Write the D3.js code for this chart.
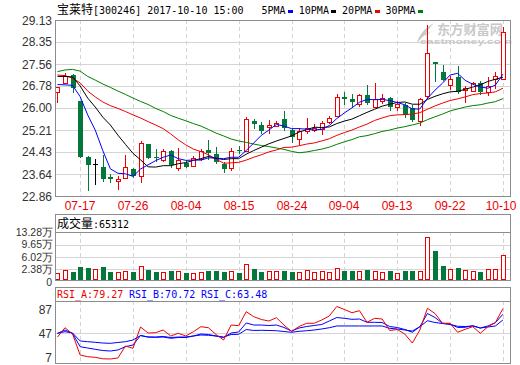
<!DOCTYPE html>
<html>
<head>
<meta charset="utf-8">
<script src="https://cdn.jsdelivr.net/npm/d3@7"></script>
<style>
  body { margin: 0; background: #fff; }
</style>
</head>
<body>
<div id="chart"></div>
<script>
// trading days shown (MM-DD)
const dates = [
  "07-12","07-13","07-14","07-17","07-18","07-19","07-20","07-21","07-24","07-25",
  "07-26","07-27","07-28","07-31","08-01","08-02","08-03","08-04","08-07","08-08",
  "08-09","08-10","08-11","08-14","08-15","08-16","08-17","08-18","08-21","08-22",
  "08-23","08-24","08-25","08-28","08-29","08-30","08-31","09-01","09-04","09-05",
  "09-06","09-07","09-08","09-11","09-12","09-13","09-14","09-15","09-18","09-19",
  "09-20","09-21","09-22","09-25","09-26","09-27","09-28","09-29","10-09","10-10"
];

const open = [
  26.57,26.90,27.17,26.24,24.26,24.00,23.88,23.53,23.41,23.49,
  23.82,23.56,24.71,24.26,24.14,24.46,23.86,24.05,23.94,24.18,
  24.50,24.34,24.00,23.85,24.50,24.47,25.53,25.39,25.33,25.37,
  25.59,25.21,24.89,25.19,25.20,25.25,25.51,25.72,26.38,26.30,
  26.14,26.46,26.04,26.25,26.34,26.02,26.10,26.01,25.53,26.43,
  27.63,27.29,26.81,27.09,26.62,26.61,26.89,26.55,27.02,27.03
];
const high = [
  26.74,27.23,27.21,26.24,24.30,24.17,24.32,23.63,23.57,24.32,
  23.85,24.83,24.72,24.53,24.52,24.50,24.56,24.14,24.28,24.52,
  24.86,24.60,24.08,24.56,24.64,25.69,25.60,25.51,25.57,25.54,
  25.90,25.25,25.27,25.63,25.44,25.53,25.71,26.49,26.55,26.48,
  26.51,26.81,26.90,26.48,26.37,26.23,26.16,26.10,26.35,28.95,
  27.63,27.51,27.15,27.49,26.78,26.93,26.96,27.10,27.29,28.88
];
const low = [
  26.21,26.89,26.55,24.24,23.06,23.27,23.39,23.35,23.10,23.49,
  23.52,23.36,24.20,24.12,24.11,23.89,23.79,23.89,23.93,24.16,
  24.18,24.03,23.73,23.79,24.38,24.47,25.28,25.12,25.12,25.35,
  25.21,24.80,24.71,25.12,25.16,25.07,25.47,25.71,26.14,26.07,
  26.07,26.12,26.04,26.16,25.92,25.92,25.69,25.54,25.39,26.36,
  26.96,26.99,26.66,26.52,26.22,26.60,26.49,26.46,26.70,27.03
];
const close = [
  26.73,27.12,26.70,24.26,23.96,24.00,23.46,23.46,23.46,23.88,
  23.56,24.76,24.21,24.20,24.46,23.96,24.13,23.91,24.22,24.46,
  24.38,24.08,23.81,24.46,24.45,25.59,25.43,25.18,25.39,25.47,
  25.30,24.97,25.17,25.30,25.30,25.47,25.63,26.38,26.30,26.22,
  26.46,26.16,26.31,26.34,26.03,26.12,25.76,25.56,26.32,27.94,
  27.58,27.01,27.02,26.58,26.72,26.88,26.55,26.78,27.12,28.69
];

const ma5 = [
  26.83,26.82,26.80,26.40,25.75,25.21,24.48,23.83,23.67,23.65,
  23.56,23.82,23.97,24.12,24.24,24.32,24.19,24.13,24.14,24.14,
  24.22,24.21,24.19,24.24,24.24,24.48,24.75,25.02,25.21,25.41,
  25.35,25.26,25.26,25.24,25.21,25.24,25.37,25.62,25.82,26.00,
  26.20,26.30,26.29,26.30,26.26,26.19,26.11,25.96,25.96,26.34,
  26.63,26.88,27.17,27.23,26.98,26.84,26.75,26.70,26.81,27.20
];
const ma10 = [
  27.12,27.12,27.10,26.78,26.35,26.03,25.67,25.39,25.03,24.70,
  24.38,24.15,23.90,23.89,23.94,23.94,24.01,24.05,24.13,24.19,
  24.27,24.20,24.16,24.19,24.19,24.35,24.48,24.60,24.72,24.82,
  24.91,25.00,25.14,25.22,25.31,25.30,25.32,25.44,25.53,25.60,
  25.72,25.84,25.95,26.06,26.13,26.19,26.21,26.13,26.13,26.30,
  26.41,26.50,26.57,26.59,26.66,26.74,26.82,26.94,27.02,27.09
];
const ma20 = [
  27.17,27.15,27.06,26.89,26.60,26.39,26.21,26.08,25.98,25.87,
  25.75,25.64,25.51,25.39,25.26,25.07,24.86,24.68,24.53,24.44,
  24.33,24.17,24.03,24.04,24.06,24.14,24.24,24.33,24.43,24.50,
  24.59,24.60,24.65,24.71,24.75,24.82,24.90,25.02,25.12,25.21,
  25.32,25.42,25.55,25.64,25.72,25.75,25.76,25.78,25.83,25.95,
  26.07,26.17,26.26,26.32,26.39,26.47,26.51,26.53,26.57,26.70
];
const ma30 = [
  27.29,27.35,27.37,27.31,27.12,26.99,26.85,26.73,26.60,26.48,
  26.35,26.23,26.12,25.98,25.87,25.73,25.63,25.54,25.44,25.35,
  25.23,25.10,25.00,24.89,24.82,24.77,24.71,24.66,24.62,24.57,
  24.52,24.45,24.40,24.43,24.48,24.53,24.60,24.70,24.79,24.87,
  24.97,25.01,25.08,25.16,25.21,25.28,25.33,25.39,25.46,25.58,
  25.68,25.78,25.89,25.96,26.03,26.08,26.11,26.17,26.22,26.33
];

// volume in 万 (10k lots)
const volume = [
  1.10,2.00,1.49,2.99,2.69,2.30,2.99,1.49,1.49,1.70,
  1.49,3.19,2.09,1.49,1.49,1.79,1.70,1.19,1.19,1.49,
  1.79,1.79,1.58,1.79,1.28,3.79,2.39,1.49,1.79,1.79,
  1.79,1.49,1.49,2.00,1.49,1.70,1.49,2.78,1.79,1.79,
  1.79,2.09,1.70,1.49,1.79,1.10,1.79,1.79,1.79,11.85,
  7.76,3.28,2.39,2.69,2.00,1.70,1.49,2.39,2.39,6.53
];

const rsiA = [
  40.8,56.3,45.8,10.8,8.0,7.0,4.5,4.2,5.8,25.8,
  22.0,57.5,47.5,48.0,52.5,42.5,47.0,42.5,49.7,58.0,
  56.3,45.0,35.8,60.8,59.7,83.0,74.7,70.0,67.5,73.0,
  60.8,50.0,58.3,63.7,63.7,69.2,75.8,91.7,86.7,81.3,
  84.7,65.3,72.0,70.8,51.7,53.3,45.8,30.8,52.5,88.7,
  80.0,63.7,63.7,48.7,53.7,58.0,47.0,58.0,64.7,88.3
];
const rsiB = [
  47.0,52.5,46.7,24.7,22.5,20.3,18.3,17.5,19.2,24.7,
  27.5,43.3,40.8,40.3,40.8,38.7,40.0,40.0,42.5,45.8,
  45.0,42.5,40.0,47.5,49.2,64.2,60.8,60.8,60.0,60.8,
  56.7,50.8,55.8,58.3,60.0,61.7,67.5,73.3,72.0,70.3,
  70.8,65.3,65.3,65.0,58.3,56.7,53.3,48.7,58.0,80.0,
  73.3,63.7,62.5,56.7,57.0,59.7,55.8,59.2,64.7,78.7
];
const rsiC = [
  47.0,49.7,47.5,34.2,33.0,32.0,30.8,30.3,31.7,33.0,
  35.8,43.3,40.8,40.8,41.7,40.0,40.8,40.8,42.5,44.2,
  43.7,42.5,40.8,45.0,45.3,53.3,51.7,52.0,51.7,51.3,
  50.0,48.7,50.3,51.3,52.5,54.2,56.3,59.2,59.2,59.2,
  59.2,59.2,59.2,59.2,55.3,54.2,52.5,50.8,58.0,68.0,
  65.0,63.3,61.7,58.7,58.3,59.2,55.8,57.5,59.2,69.2
];

const priceTicks = [29.13, 28.35, 27.56, 26.78, 26.00, 25.21, 24.43, 23.64, 22.86];
const volTicks = [13.28, 9.65, 6.02, 2.38];
const volTickLabels = ["13.28万", "9.65万", "6.02万", "2.38万"];
const rsiTicks = [87, 47, 7];
const dateTicks = ["07-17","07-26","08-04","08-15","08-24","09-04","09-13","09-22","10-10"];

const titleName = "宝莱特";
const titleRest = "[300246] 2017-10-10 15:00";
const maLegend = [
  { label: "5PMA", color: "#0000ff" },
  { label: "10PMA", color: "#000000" },
  { label: "20PMA", color: "#ee0000" },
  { label: "30PMA", color: "#008000" }
];
const volName = "成交量";
const volValue = ":65312";
const rsiTitles = [
  { text: "RSI_A:79.27", color: "#ee0000" },
  { text: "RSI_B:70.72", color: "#0000ff" },
  { text: "RSI_C:63.48", color: "#0000ff" }
];

// ---- layout ----
const W = 520, H = 365;
const L = 55, R = 510;
const main = { top: 20, bottom: 196 };
const vol = { top: 214, head: 232, bottom: 280 };
const rsi = { top: 287, head: 301, bottom: 363 };

const UP = "#ee0000", DOWN = "#04773b";
const GRID = "#d4d4d4", BORDER = "#8c8c8c", LABEL = "#333";
const MONO = "'DejaVu Sans Mono', 'Liberation Mono', monospace";
const CJK = "'Noto Sans CJK SC', sans-serif";

const svg = d3.select("#chart").append("svg")
  .attr("width", W)
  .attr("height", H)
  .style("font-family", "'Liberation Sans', Arial, sans-serif");

const x = d3.scaleBand().domain(dates).range([53.7, 506.7]);
const xc = d => x(d) + x.bandwidth() / 2;
const cx = d => Math.round(xc(d));
const crisp = v => Math.round(v) + 0.5;

const yPrice = d3.scaleLinear().domain([22.86, 29.13]).range([main.bottom, main.top]);
const yVol = d3.scaleLinear().domain([0, 13.28]).range([277, 232.5]);
const yRsi = d3.scaleLinear().domain([0, 100]).range([361.5, 301.5]);

const data = dates.map((d, i) => ({
  date: d, open: open[i], high: high[i], low: low[i], close: close[i], vol: volume[i]
}));

// clip for plot areas
const defs = svg.append("defs");
defs.append("clipPath").attr("id", "clipMain")
  .append("rect").attr("x", L + 1).attr("y", main.top + 1)
  .attr("width", R - L - 1).attr("height", main.bottom - main.top - 1);

// ---- header ----
const titleText = svg.append("text")
  .attr("x", 57).attr("y", 14)
  .attr("fill", "#000");
titleText.append("tspan")
  .attr("font-family", CJK).attr("font-size", 12)
  .text(titleName);
titleText.append("tspan")
  .attr("font-family", MONO).attr("font-size", 10)
  .text(titleRest);

let lx = 261.5;
maLegend.forEach(item => {
  const tw = item.label.length * 6;
  svg.append("text")
    .attr("x", lx).attr("y", 14)
    .attr("font-family", MONO).attr("font-size", 10)
    .attr("fill", "#000")
    .text(item.label);
  svg.append("rect")
    .attr("x", Math.round(lx + tw + 2.5)).attr("y", 10)
    .attr("width", 5).attr("height", 3)
    .attr("fill", item.color);
  lx = lx + tw + 2.5 + 5 + 5.8;
});

// ---- main panel grid ----
const gMain = svg.append("g");

gMain.selectAll(".hgrid").data(priceTicks).enter().append("line")
  .attr("x1", L).attr("x2", R)
  .attr("y1", d => crisp(yPrice(d))).attr("y2", d => crisp(yPrice(d)))
  .attr("stroke", GRID).attr("stroke-width", 1);

gMain.selectAll(".vgrid").data(dateTicks).enter().append("line")
  .attr("x1", d => cx(d) + 0.5).attr("x2", d => cx(d) + 0.5)
  .attr("y1", main.top).attr("y2", main.bottom)
  .attr("stroke", GRID).attr("stroke-width", 1)
  .attr("stroke-dasharray", "4,3");

// watermark
const wm = gMain.append("g").attr("fill", "#c9c9c9");
wm.append("path")
  .attr("d", "M434,23 C426,27 418,35 417,44 C421,37 427,32 436,30 C432,31 428,33 425,36 C427,31 430,27 434,23 Z");
wm.append("text")
  .attr("x", 437).attr("y", 34)
  .attr("font-family", CJK)
  .attr("font-size", 13).attr("font-weight", "bold")
  .attr("textLength", 66).attr("lengthAdjust", "spacingAndGlyphs")
  .text("东方财富网");
wm.append("text")
  .attr("x", 420).attr("y", 44)
  .attr("font-size", 8).attr("font-weight", "bold")
  .attr("textLength", 92).attr("lengthAdjust", "spacingAndGlyphs")
  .text("eastmoney.com");

// ---- candles ----
const gCandles = gMain.append("g").attr("clip-path", "url(#clipMain)");
const candleColor = d => d.close > d.open ? UP : (d.close < d.open ? DOWN : "#000");

gCandles.selectAll(".wick").data(data).enter().append("line")
  .attr("x1", d => cx(d.date) + 0.5).attr("x2", d => cx(d.date) + 0.5)
  .attr("y1", d => Math.round(yPrice(d.high))).attr("y2", d => Math.round(yPrice(d.low)) + 1)
  .attr("stroke", candleColor).attr("stroke-width", 1);

gCandles.selectAll(".body").data(data).enter().append("rect")
  .attr("x", d => d.close > d.open ? cx(d.date) - 1.5 : cx(d.date) - 2)
  .attr("y", d => {
    const t = Math.round(yPrice(Math.max(d.open, d.close)));
    return d.close > d.open ? t + 0.5 : t;
  })
  .attr("width", d => d.close > d.open ? 4 : 5)
  .attr("height", d => {
    const t = Math.round(yPrice(Math.max(d.open, d.close)));
    const b = Math.round(yPrice(Math.min(d.open, d.close)));
    return d.close > d.open ? Math.max(b - t, 0) : Math.max(b - t, 1);
  })
  .attr("fill", d => d.close > d.open ? "#fff" : candleColor(d))
  .attr("stroke", d => d.close > d.open ? UP : "none")
  .attr("stroke-width", 1);

// ---- moving averages ----
const maLine = d3.line()
  .x((v, i) => xc(dates[i]))
  .y(v => yPrice(v));

[[ma30, "#008000"], [ma20, "#ee0000"], [ma10, "#000000"], [ma5, "#0000ff"]].forEach(([series, color]) => {
  gCandles.append("path")
    .datum(series)
    .attr("d", maLine)
    .attr("fill", "none")
    .attr("stroke", color)
    .attr("stroke-width", 1);
});

// main border
svg.append("rect")
  .attr("x", L + 0.5).attr("y", main.top + 0.5)
  .attr("width", R - L).attr("height", main.bottom - main.top)
  .attr("fill", "none").attr("stroke", BORDER);

// price labels
svg.selectAll(".plabel").data(priceTicks).enter().append("text")
  .attr("x", 52).attr("y", d => yPrice(d) + 4.5)
  .attr("text-anchor", "end")
  .attr("font-size", 12).attr("fill", LABEL)
  .text(d => d.toFixed(2));

// date labels
svg.selectAll(".dlabel").data(dateTicks).enter().append("text")
  .attr("x", d => Math.min(cx(d), 501))
  .attr("y", 210)
  .attr("text-anchor", "middle")
  .attr("font-size", 12).attr("fill", "#ee0000")
  .text(d => d);

// ---- volume panel ----
const gVol = svg.append("g");

gVol.selectAll(".vh").data(volTicks.slice(1)).enter().append("line")
  .attr("x1", L).attr("x2", R)
  .attr("y1", d => crisp(yVol(d))).attr("y2", d => crisp(yVol(d)))
  .attr("stroke", GRID);

gVol.selectAll(".vv").data(dateTicks).enter().append("line")
  .attr("x1", d => cx(d) + 0.5).attr("x2", d => cx(d) + 0.5)
  .attr("y1", vol.head).attr("y2", vol.bottom)
  .attr("stroke", GRID).attr("stroke-dasharray", "4,3");

gVol.selectAll(".vbar").data(data).enter().append("rect")
  .attr("x", d => d.close >= d.open ? cx(d.date) - 1.5 : cx(d.date) - 2)
  .attr("y", d => d.close >= d.open ? Math.round(yVol(d.vol)) + 0.5 : Math.round(yVol(d.vol)))
  .attr("width", d => d.close >= d.open ? 4 : 5)
  .attr("height", d => d.close >= d.open
    ? vol.bottom - 0.5 - (Math.round(yVol(d.vol)) + 0.5)
    : vol.bottom - Math.round(yVol(d.vol)))
  .attr("fill", d => d.close >= d.open ? "#fff" : DOWN)
  .attr("stroke", d => d.close >= d.open ? UP : "none");

gVol.append("rect")
  .attr("x", L + 0.5).attr("y", vol.top + 0.5)
  .attr("width", R - L).attr("height", vol.bottom - vol.top)
  .attr("fill", "none").attr("stroke", BORDER);
gVol.append("line")
  .attr("x1", L).attr("x2", R)
  .attr("y1", vol.head + 0.5).attr("y2", vol.head + 0.5)
  .attr("stroke", BORDER);

const volText = gVol.append("text")
  .attr("x", 57).attr("y", 228)
  .attr("fill", "#000");
volText.append("tspan")
  .attr("font-family", CJK).attr("font-size", 12)
  .text(volName);
volText.append("tspan")
  .attr("font-family", MONO).attr("font-size", 10)
  .text(volValue);

gVol.selectAll(".vlabel").data(volTicks).enter().append("text")
  .attr("x", 53).attr("y", d => yVol(d) + 3.8)
  .attr("text-anchor", "end")
  .attr("font-size", 10.5).attr("fill", LABEL)
  .text((d, i) => volTickLabels[i]);
gVol.append("text")
  .attr("x", 52).attr("y", vol.bottom + 5.5)
  .attr("text-anchor", "end")
  .attr("font-size", 10.5).attr("fill", LABEL)
  .text("0");

// ---- RSI panel ----
const gRsi = svg.append("g");

gRsi.append("line")
  .attr("x1", L).attr("x2", R)
  .attr("y1", crisp(yRsi(47))).attr("y2", crisp(yRsi(47)))
  .attr("stroke", GRID);

gRsi.selectAll(".rv").data(dateTicks).enter().append("line")
  .attr("x1", d => cx(d) + 0.5).attr("x2", d => cx(d) + 0.5)
  .attr("y1", rsi.head).attr("y2", rsi.bottom)
  .attr("stroke", GRID).attr("stroke-dasharray", "4,3");

const rsiLine = d3.line()
  .x((v, i) => xc(dates[i]))
  .y(v => yRsi(v));

[[rsiC, "#0000ff"], [rsiB, "#0000ff"], [rsiA, "#ee0000"]].forEach(([series, color]) => {
  gRsi.append("path")
    .datum(series)
    .attr("d", rsiLine)
    .attr("fill", "none")
    .attr("stroke", color)
    .attr("stroke-width", 1);
});

gRsi.append("rect")
  .attr("x", L + 0.5).attr("y", rsi.top + 0.5)
  .attr("width", R - L).attr("height", rsi.bottom - rsi.top)
  .attr("fill", "none").attr("stroke", BORDER);
gRsi.append("line")
  .attr("x1", L).attr("x2", R)
  .attr("y1", rsi.head + 0.5).attr("y2", rsi.head + 0.5)
  .attr("stroke", BORDER);

rsiTitles.forEach((t, i) => {
  gRsi.append("text")
    .attr("x", 57 + i * 72).attr("y", 298)
    .attr("font-family", MONO).attr("font-size", 10)
    .attr("fill", t.color)
    .text(t.text);
});

gRsi.selectAll(".rlabel").data(rsiTicks).enter().append("text")
  .attr("x", 52).attr("y", d => yRsi(d) + 4.5)
  .attr("text-anchor", "end")
  .attr("font-size", 12).attr("fill", LABEL)
  .text(d => d);
</script>
</body>
</html>
